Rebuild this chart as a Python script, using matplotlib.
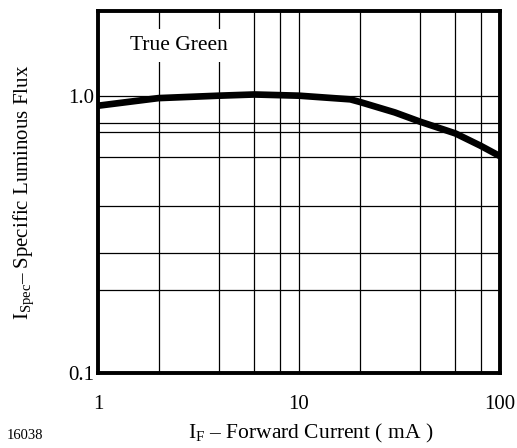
import matplotlib.pyplot as plt
import numpy as np
from matplotlib.ticker import FixedLocator, NullFormatter

plt.rcParams["font.family"] = ["Liberation Serif", "DejaVu Serif"]
plt.rcParams["mathtext.fontset"] = "custom"
plt.rcParams["mathtext.rm"] = "Liberation Serif"
plt.rcParams["mathtext.it"] = "Liberation Serif"

# forward current (mA) and relative luminous flux
current = [1, 2, 4, 6, 10, 18, 20, 30, 40, 60, 80, 100]
flux = [0.92, 0.98, 1.0, 1.01, 1.0, 0.97, 0.95, 0.87, 0.806, 0.731, 0.66, 0.605]

x_ticks = [1, 10, 100]
x_labels = ["1", "10", "100"]
y_ticks = [0.1, 1.0]
y_labels = ["0.1", "1.0"]
x_grid = [2, 4, 6, 8, 20, 40, 60, 80]
y_grid = [0.2, 0.27, 0.4, 0.6, 0.74, 0.8]

fig = plt.figure(figsize=(5.17, 4.48), dpi=100)
ax = fig.add_axes([98 / 517, 1 - 373 / 448, 402 / 517, 362 / 448])

ax.set_xscale("log")
ax.set_yscale("log")
ax.set_xlim(1, 100)
ax.set_ylim(0.1, 2.02)

ax.xaxis.set_major_locator(FixedLocator(x_ticks))
ax.set_xticklabels(x_labels)
ax.yaxis.set_major_locator(FixedLocator(y_ticks))
ax.set_yticklabels(y_labels)
ax.xaxis.set_minor_locator(FixedLocator(x_grid))
ax.yaxis.set_minor_locator(FixedLocator(y_grid))
ax.xaxis.set_minor_formatter(NullFormatter())
ax.yaxis.set_minor_formatter(NullFormatter())
ax.tick_params(which="both", length=0, labelsize=15)
ax.tick_params(axis="x", pad=16)
ax.tick_params(axis="y", pad=3)
ax.grid(True, which="both", color="black", linewidth=0.9)

for s in ax.spines.values():
    s.set_linewidth(2.8)

ax.plot(current, flux, color="black", linewidth=4.8, solid_capstyle="butt", zorder=3)

ax.text(0.2, 0.905, "True Green", transform=ax.transAxes, fontsize=15.5,
        ha="center", va="center",
        bbox=dict(facecolor="white", edgecolor="none", pad=5), zorder=4)

fig.text(311 / 517, 1 - 433 / 448, r"$\mathrm{I_F}$ – Forward Current ( mA )",
         fontsize=15.5, ha="center", va="center")
fig.text(24 / 517, 1 - 192 / 448, r"$\mathrm{I_{Spec}}$– Specific Luminous Flux",
         fontsize=15, ha="center", va="center", rotation=90)
fig.text(25 / 517, 1 - 435 / 448, "16038", fontsize=10.5, ha="center", va="center")

fig.savefig("out.png", dpi=100)
